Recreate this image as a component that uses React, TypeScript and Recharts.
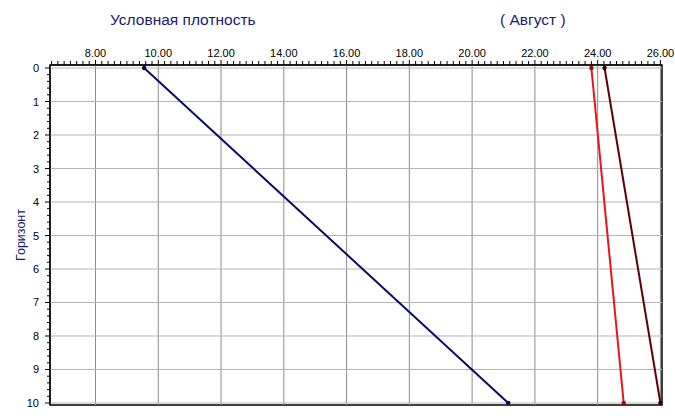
import {
  ReferenceArea,
  ReferenceLine,
  Scatter,
  ScatterChart,
  XAxis,
  YAxis,
} from "recharts";

// depth (horizon) of each measured point
const DEPTHS: number[] = [0, 10];
// series values along the density axis
const BLUE: number[] = [9.55, 21.15];
const RED: number[] = [23.8, 24.83];
const DARK_RED: number[] = [24.22, 26.0];

const X_MAJOR: number[] = [8, 10, 12, 14, 16, 18, 20, 22, 24, 26];
const Y_MAJOR: number[] = [0, 1, 2, 3, 4, 5, 6, 7, 8, 9, 10];

const X_DOMAIN: [number, number] = [6.55, 26.05];
const Y_DOMAIN: [number, number] = [-0.09, 10.06];

// minor ticks every 0.2
const X_TICKS: number[] = Array.from({ length: 98 }, (_, i) => (33 + i) / 5);
const Y_TICKS: number[] = Array.from({ length: 51 }, (_, i) => i / 5);

const FONT = "'Liberation Sans', Arial, sans-serif";
const NAVY = "#1a1a6e";

const toPoints = (xs: number[]) => xs.map((x, i) => ({ x, y: DEPTHS[i] }));

const TopTick = (props: any) => {
  const { x, y, payload } = props;
  const v: number = payload.value;
  const major = Math.abs(v / 2 - Math.round(v / 2)) < 1e-6;
  return (
    <g>
      <line x1={x} y1={y} x2={x} y2={y - (major ? 5 : 4)} stroke="#000" />
      {major && (
        <text x={x} y={y - 8} textAnchor="middle" fontSize={11} fontFamily={FONT} fill="#000">
          {v.toFixed(2)}
        </text>
      )}
    </g>
  );
};

const LeftTick = (props: any) => {
  const { x, y, payload } = props;
  const v: number = payload.value;
  const major = Math.abs(v - Math.round(v)) < 1e-6;
  return (
    <g>
      <line x1={x - (major ? 5 : 3)} y1={y} x2={x} y2={y} stroke="#000" />
      {major && (
        <text x={x - 11} y={y + 4} textAnchor="end" fontSize={11} fontFamily={FONT} fill="#000">
          {Math.round(v)}
        </text>
      )}
    </g>
  );
};

const Dot = (color: string) => (props: any) =>
  <circle cx={props.cx} cy={props.cy} r={2.2} fill={color} />;

const App = () => {
  return (
    <div style={{ position: "absolute", left: 0, top: 0, width: 675, height: 419, background: "#fff" }}>
      <div style={{ position: "absolute", left: 110, top: 11, fontFamily: FONT, fontSize: 15.5, color: NAVY, whiteSpace: "nowrap" }}>
        Условная плотность
      </div>
      <div style={{ position: "absolute", left: 500, top: 11, fontFamily: FONT, fontSize: 15.5, color: NAVY, whiteSpace: "nowrap" }}>
        ( Август )
      </div>
      <ScatterChart width={675} height={419} margin={{ top: 35, right: 13, bottom: 14, left: 0 }}>
        <XAxis
          xAxisId={0}
          type="number"
          dataKey="x"
          orientation="top"
          domain={X_DOMAIN}
          allowDataOverflow
          ticks={X_TICKS}
          interval={0}
          tick={<TopTick />}
          tickLine={false}
          tickSize={0}
          tickMargin={0}
          height={30}
          axisLine={{ stroke: "#000" }}
        />
        <YAxis
          yAxisId={0}
          type="number"
          dataKey="y"
          reversed
          domain={Y_DOMAIN}
          allowDataOverflow
          ticks={Y_TICKS}
          interval={0}
          tick={<LeftTick />}
          tickLine={false}
          tickSize={0}
          tickMargin={0}
          width={50}
          axisLine={{ stroke: "#000" }}
          label={{
            value: "Горизонт",
            angle: -90,
            position: "insideLeft",
            offset: 21,
            style: { fontFamily: FONT, fontSize: 12.5, fill: NAVY, textAnchor: "middle" },
          }}
        />
        {X_MAJOR.map((v) => (
          <ReferenceLine key={`gx-${v}`} x={v} stroke="#8c8c8c" ifOverflow="extendDomain" />
        ))}
        {Y_MAJOR.map((v) => (
          <ReferenceLine key={`gy-${v}`} y={v} stroke="#b4b4b4" />
        ))}
        <ReferenceArea
          x1={X_DOMAIN[0]}
          x2={X_DOMAIN[1]}
          y1={Y_DOMAIN[0]}
          y2={Y_DOMAIN[1]}
          fill="none"
          fillOpacity={0}
          stroke="#000"
          strokeWidth={1.5}
        />
        <Scatter
          data={toPoints(BLUE)}
          line={{ stroke: "#0a0a6a", strokeWidth: 2 }}
          shape={Dot("#0a0a50")}
          isAnimationActive={false}
        />
        <Scatter
          data={toPoints(RED)}
          line={{ stroke: "#e8141e", strokeWidth: 2 }}
          shape={Dot("#8a1010")}
          isAnimationActive={false}
        />
        <Scatter
          data={toPoints(DARK_RED)}
          line={{ stroke: "#5c0008", strokeWidth: 2 }}
          shape={Dot("#3a0005")}
          isAnimationActive={false}
        />
      </ScatterChart>
    </div>
  );
};

export default App;
